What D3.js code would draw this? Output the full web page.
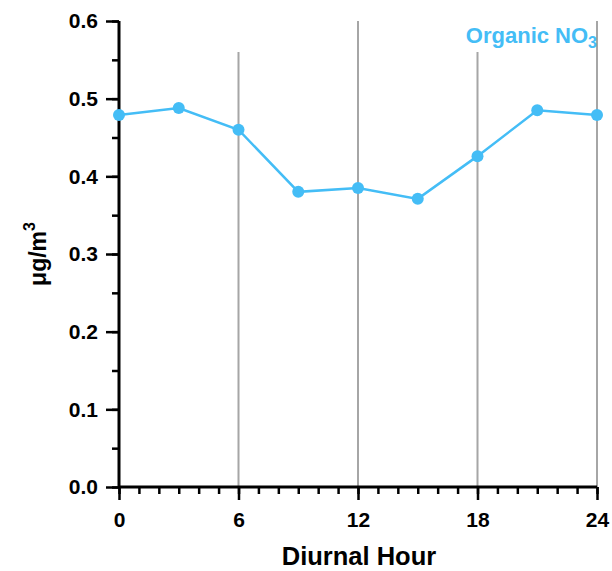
<!DOCTYPE html>
<html>
<head>
<meta charset="utf-8">
<script src="https://cdn.jsdelivr.net/npm/d3@7"></script>
<style>
  body { margin: 0; background: #fff; }
  text { font-family: "Liberation Sans", Arial, sans-serif; font-weight: bold; }
</style>
</head>
<body>
<div id="viz"></div>
<script>
// data
var hours = [0, 3, 6, 9, 12, 15, 18, 21, 24];
var organicNO3 = [0.479, 0.488, 0.460, 0.380, 0.385, 0.371, 0.426, 0.485, 0.479];
var xTicks = [0, 6, 12, 18, 24];
var yTicks = [0.0, 0.1, 0.2, 0.3, 0.4, 0.5, 0.6];
var gridHours = [6, 12, 18, 24];
var gridTop = [0.56, 0.6, 0.56, 0.6]; // where each grid line starts

var W = 612, H = 571;
var mLeft = 119, mRight = 597, mTop = 21, mBottom = 487;
var blue = "#44bdf6";

var svg = d3.select("#viz").append("svg").attr("width", W).attr("height", H);

var x = d3.scaleLinear().domain([0, 24]).range([mLeft, mRight]);
var y = d3.scaleLinear().domain([0, 0.6]).range([mBottom, mTop]);

//grid lines
svg.selectAll("line.grid").data(gridHours).enter().append("line")
	.attr("class", "grid")
	.attr("x1", function(d) { return x(d); })
	.attr("x2", function(d) { return x(d); })
	.attr("y1", function(d, i) { return y(gridTop[i]); })
	.attr("y2", mBottom)
	.attr("stroke", "#a6a6a6")
	.attr("stroke-width", 2);

//x axis: minor then major
var xMinor = svg.append("g").attr("transform", "translate(0," + mBottom + ")")
	.call(d3.axisBottom(x).tickValues(d3.range(0, 25, 1)).tickSize(7).tickFormat(""));
var xMajor = svg.append("g").attr("transform", "translate(0," + mBottom + ")")
	.call(d3.axisBottom(x).tickValues(xTicks).tickSize(13).tickPadding(12).tickFormat(d3.format("d")));

//y axis
var yMinor = svg.append("g").attr("transform", "translate(" + mLeft + ",0)")
	.call(d3.axisLeft(y).tickValues(d3.range(0, 0.61, 0.05)).tickSize(7).tickFormat(""));
var yMajor = svg.append("g").attr("transform", "translate(" + mLeft + ",0)")
	.call(d3.axisLeft(y).tickValues(yTicks).tickSize(13).tickPadding(8).tickFormat(d3.format(".1f")));

svg.selectAll(".domain").attr("stroke", "#000").attr("stroke-width", 3);
svg.selectAll(".tick line").attr("stroke", "#000").attr("stroke-width", 2.5);
svg.selectAll(".tick text").attr("fill", "#000").style("font-size", "21px");
xMajor.selectAll(".domain").attr("d", "M" + mLeft + ",0H" + mRight);
yMajor.selectAll(".domain").attr("d", "M0," + mBottom + "V" + mTop);
xMinor.selectAll(".domain").remove();
yMinor.selectAll(".domain").remove();

//series
var line = d3.line()
	.x(function(d, i) { return x(hours[i]); })
	.y(function(d) { return y(d); });

svg.append("path").datum(organicNO3)
	.attr("d", line)
	.attr("fill", "none")
	.attr("stroke", blue)
	.attr("stroke-width", 2.5);

svg.selectAll("circle").data(organicNO3).enter().append("circle")
	.attr("cx", function(d, i) { return x(hours[i]); })
	.attr("cy", function(d) { return y(d); })
	.attr("r", 6)
	.attr("fill", blue);

//legend label
var leg = svg.append("text")
	.attr("x", 597).attr("y", 43)
	.attr("text-anchor", "end")
	.attr("fill", blue)
	.style("font-size", "22px");
leg.append("tspan").text("Organic NO");
leg.append("tspan").attr("dy", 5).style("font-size", "16px").text("3");

//axis titles
svg.append("text")
	.attr("x", (mLeft + mRight) / 2 + 1).attr("y", 565)
	.attr("text-anchor", "middle")
	.style("font-size", "25.5px")
	.text("Diurnal Hour");

var yl = svg.append("text")
	.attr("transform", "translate(46," + ((mTop + mBottom) / 2) + ") rotate(-90)")
	.attr("text-anchor", "middle")
	.style("font-size", "23px");
yl.append("tspan").text("μg/m");
yl.append("tspan").attr("dy", -11).style("font-size", "16px").text("3");
</script>
</body>
</html>
